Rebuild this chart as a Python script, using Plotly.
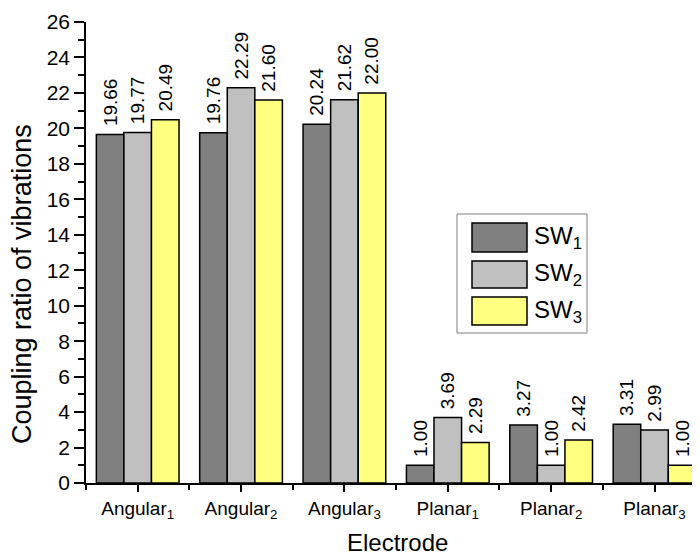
import plotly.graph_objects as go

categories = ["Angular<sub>1</sub>", "Angular<sub>2</sub>", "Angular<sub>3</sub>",
              "Planar<sub>1</sub>", "Planar<sub>2</sub>", "Planar<sub>3</sub>"]
series_names = ["SW<sub>1</sub>", "SW<sub>2</sub>", "SW<sub>3</sub>"]
sw1 = [19.66, 19.76, 20.24, 1.00, 3.27, 3.31]
sw2 = [19.77, 22.29, 21.62, 3.69, 1.00, 2.99]
sw3 = [20.49, 21.60, 22.00, 2.29, 2.42, 1.00]
y_ticks = list(range(0, 27, 2))

colors = ["#808080", "#c0c0c0", "#ffff80"]
FONT = "Arial, 'Liberation Sans', sans-serif"

# page body has an 8px margin: shift layout so the screenshot lines up
OFF = 8
W, H = 700, 556
ML, MR, MT, MB = 86 - OFF, OFF, 22 - OFF, 556 - (483 - OFF)
PW = W - ML - MR
PH = H - MT - MB


def px_x(p):
    return (p - OFF - ML) / PW


def px_y(p):
    return (H - MB - (p - OFF)) / PH


xpos = list(range(len(categories)))

fig = go.Figure()
for name, vals, col in zip(series_names, [sw1, sw2, sw3], colors):
    fig.add_trace(go.Bar(
        x=xpos, y=vals, name=name,
        marker=dict(color=col, line=dict(color="black", width=1.5)),
        text=["\u00a0" + f"{v:.2f}" for v in vals],
        textposition="outside", textangle=-90, cliponaxis=False,
        constraintext="none",
        textfont=dict(family=FONT, size=19, color="black"),
        showlegend=False,
    ))

fig.update_layout(
    width=W, height=H,
    margin=dict(l=ML, r=MR, t=MT, b=MB, autoexpand=False),
    paper_bgcolor="white", plot_bgcolor="white",
    barmode="group", bargap=0.2, bargroupgap=0,
    font=dict(family=FONT, color="black"),
)

fig.update_xaxes(
    range=[-0.5, 5.44], showgrid=False, zeroline=False,
    showline=True, linecolor="black", linewidth=1.5,
    tickmode="array", tickvals=xpos, ticktext=categories,
    ticks="outside", ticklen=7, tickwidth=1.5, tickcolor="black",
    tickfont=dict(family=FONT, size=19, color="black"),
    minor=dict(tick0=0.5, dtick=1, ticks="outside", ticklen=5,
               tickwidth=1.5, tickcolor="black", showgrid=False),
)
fig.update_yaxes(
    range=[0, 26], showgrid=False, zeroline=False,
    showline=True, linecolor="black", linewidth=1.5,
    tickmode="array", tickvals=y_ticks,
    ticks="outside", ticklen=10, tickwidth=1.5, tickcolor="black",
    tickfont=dict(family=FONT, size=21, color="black"),
    minor=dict(dtick=1, ticks="outside", ticklen=6, tickwidth=1.5,
               tickcolor="black", showgrid=False),
)

annotations = [
    dict(text="Coupling ratio of vibrations", xref="paper", yref="paper",
         x=px_x(22), y=px_y(284), xanchor="center", yanchor="middle",
         textangle=-90, showarrow=False,
         font=dict(family=FONT, size=27, color="black")),
    dict(text="Electrode", xref="paper", yref="paper",
         x=px_x(397), y=px_y(542), xanchor="center", yanchor="middle",
         showarrow=False, font=dict(family=FONT, size=24, color="black")),
]

shapes = [
    dict(type="rect", xref="paper", yref="paper",
         x0=px_x(457), x1=px_x(587), y0=px_y(333), y1=px_y(214),
         line=dict(color="#808080", width=1), fillcolor="white", layer="above"),
]
sw_rows = [(223, 252), (261, 288), (297, 325)]
for (top, bot), name, col in zip(sw_rows, series_names, colors):
    shapes.append(dict(type="rect", xref="paper", yref="paper",
                       x0=px_x(472), x1=px_x(527), y0=px_y(bot), y1=px_y(top),
                       line=dict(color="black", width=1.5), fillcolor=col,
                       layer="above"))
    annotations.append(dict(text=name, xref="paper", yref="paper",
                            x=px_x(532), y=px_y((top + bot) / 2),
                            xanchor="left", yanchor="middle", showarrow=False,
                            font=dict(family=FONT, size=24, color="black")))

fig.update_layout(shapes=shapes, annotations=annotations)

fig.write_html("out.html")
